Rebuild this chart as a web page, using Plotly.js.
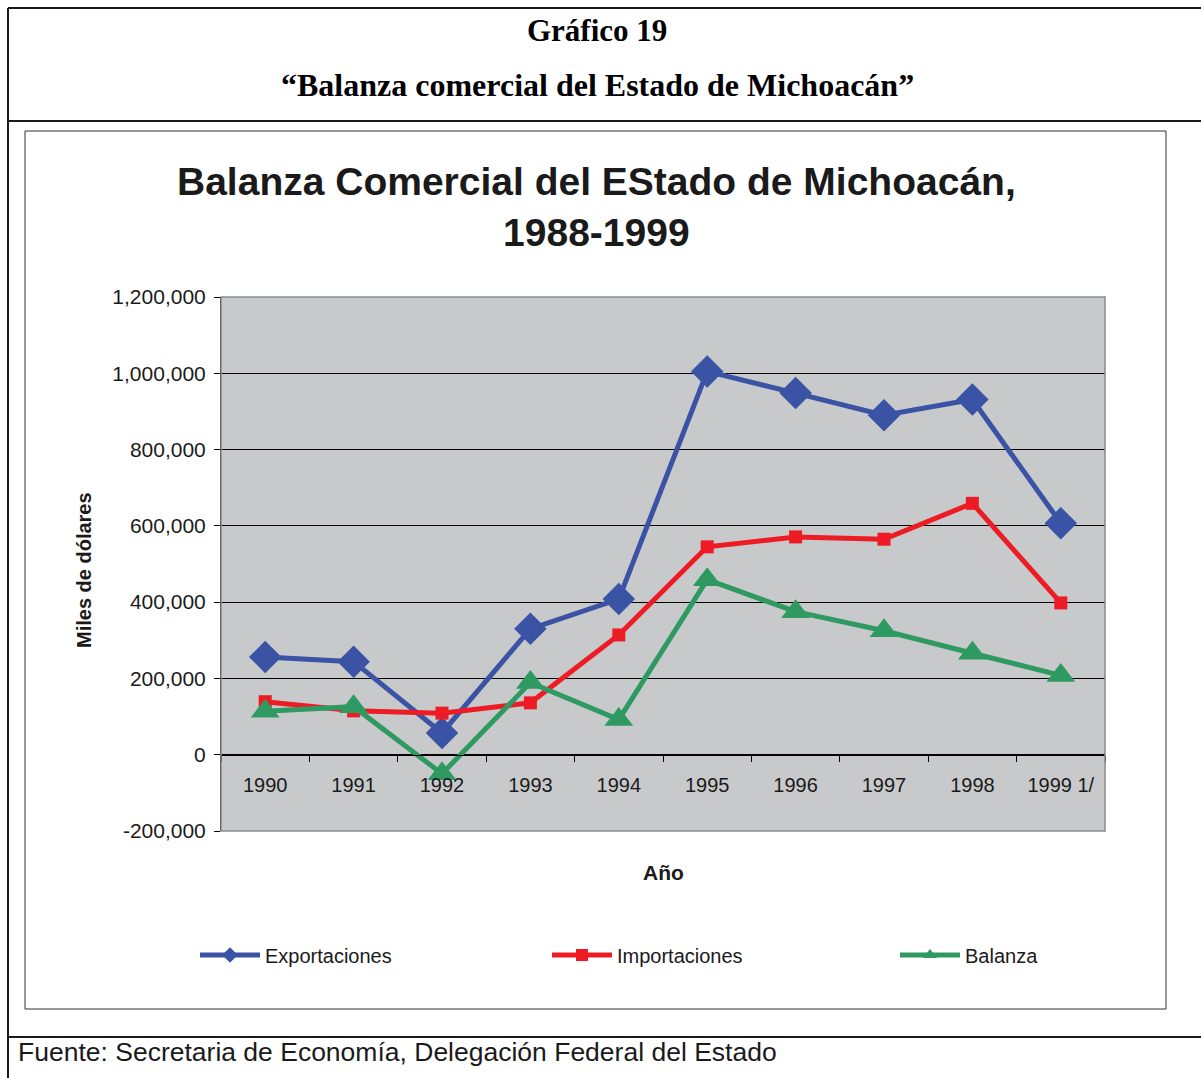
<!DOCTYPE html>
<html>
<head>
<meta charset="utf-8">
<script src="https://cdn.plot.ly/plotly-3.0.1.min.js"></script>
<style>
  body { margin: 0; background: #fff; }
  #chart { width: 1201px; height: 1078px; }
</style>
</head>
<body>
<div id="chart"></div>
<script>
// Datos (miles de dolares)
const years = ['1990', '1991', '1992', '1993', '1994', '1995', '1996', '1997', '1998', '1999 1/'];
const exportaciones = [256000, 244000, 57000, 330000, 408000, 1005000, 948000, 890000, 931000, 607000];
const importaciones = [139000, 115000, 109000, 136000, 314000, 545000, 571000, 565000, 659000, 398000];
const balanza = [114000, 126000, -50000, 189000, 92000, 459000, 375000, 325000, 266000, 208000];

const yTickVals = [-200000, 0, 200000, 400000, 600000, 800000, 1000000, 1200000];
const yTickText = ['-200,000', '0', '200,000', '400,000', '600,000', '800,000', '1,000,000', '1,200,000'];

// plot area in pixels
const L = 221, R = 1105, T = 297, B = 831;
const W = R - L, H = B - T;
const px = x => (x - L) / W;
const py = y => (B - y) / H;

const yMin = -200000, yMax = 1200000;

const traces = [
    {
        x: years, y: exportaciones, name: 'Exportaciones', legend: 'legend',
        type: 'scatter', mode: 'lines+markers',
        line: { color: '#3A53A4', width: 5 },
        marker: { symbol: 'diamond', size: 25, color: '#3A53A4' }
    },
    {
        x: years, y: importaciones, name: 'Importaciones', legend: 'legend2',
        type: 'scatter', mode: 'lines+markers',
        line: { color: '#ED1C24', width: 5 },
        marker: { symbol: 'square', size: 13, color: '#ED1C24' }
    },
    {
        x: years, y: balanza, name: 'Balanza', legend: 'legend3',
        type: 'scatter', mode: 'lines+markers',
        line: { color: '#2E9A62', width: 5 },
        marker: { symbol: 'triangle-up', size: 25, color: '#2E9A62' }
    }
];

// one legend per series so each sits where the original has it
function legendAt(xPix) {
    return {
        orientation: 'h',
        x: px(xPix), xanchor: 'left',
        y: py(955), yanchor: 'middle',
        font: { size: 20 },
        itemwidth: 60,
        itemsizing: 'constant',
        bgcolor: 'rgba(0,0,0,0)'
    };
}

const frameLine = { color: '#1a1a1a', width: 2 };

function note(text, xPix, yPix, size, extra) {
    return Object.assign({
        text: text, x: px(xPix), y: py(yPix), xref: 'paper', yref: 'paper',
        xanchor: 'center', yanchor: 'middle', showarrow: false,
        font: { size: size }
    }, extra || {});
}

const serif = 'Liberation Serif, Times New Roman, serif';

const layout = {
    width: 1201,
    height: 1078,
    margin: { l: L, r: 1201 - R, t: T, b: 1078 - B },
    paper_bgcolor: '#ffffff',
    plot_bgcolor: '#C8C9CB',
    font: { family: 'Liberation Sans, Arial, sans-serif', color: '#1a1a1a' },
    showlegend: true,
    legend: legendAt(195),
    legend2: legendAt(547),
    legend3: legendAt(895),
    xaxis: {
        type: 'category',
        range: [-0.5, 9.5],
        anchor: 'free',
        position: (0 - yMin) / (yMax - yMin),
        showgrid: false,
        showline: true, linecolor: '#000', linewidth: 1,
        ticks: 'outside', tickson: 'boundaries', ticklen: 6, tickcolor: '#000',
        tickfont: { size: 20 },
        ticklabelstandoff: 12,
        automargin: false,
        fixedrange: true
    },
    yaxis: {
        range: [yMin, yMax],
        tickvals: yTickVals,
        ticktext: yTickText,
        showgrid: true, gridcolor: '#000', gridwidth: 1,
        zeroline: false,
        showline: true, linecolor: '#000', linewidth: 1,
        ticks: 'outside', ticklen: 6, tickcolor: '#000',
        tickfont: { size: 21 },
        ticklabelstandoff: 4,
        automargin: false,
        fixedrange: true
    },
    annotations: [
        note('<b>Gráfico 19</b>', 597, 30, 31, { font: { family: serif, size: 31, color: '#000' } }),
        note('<b>“Balanza comercial del Estado de Michoacán”</b>', 597, 85, 32, { font: { family: serif, size: 32, color: '#000' } }),
        note('<b>Balanza Comercial del EStado de Michoacán,<br>1988-1999</b>', 596, 207, 39),
        note('<b>Año</b>', 663, 872, 21),
        note('<b>Miles de dólares</b>', 84, 570, 20, { textangle: -90 }),
        note('Fuente: Secretaria de Economía, Delegación Federal del Estado', 16, 1052, 26.5, { xanchor: 'left' })
    ],
    shapes: [
        // outer frame
        { type: 'line', xref: 'paper', yref: 'paper', x0: px(8), x1: px(1201), y0: py(8), y1: py(8), line: frameLine },
        { type: 'line', xref: 'paper', yref: 'paper', x0: px(8), x1: px(8), y0: py(8), y1: py(1078), line: frameLine },
        { type: 'line', xref: 'paper', yref: 'paper', x0: px(8), x1: px(1201), y0: py(121), y1: py(121), line: frameLine },
        { type: 'line', xref: 'paper', yref: 'paper', x0: px(8), x1: px(1201), y0: py(1037), y1: py(1037), line: frameLine },
        // chart box
        { type: 'rect', xref: 'paper', yref: 'paper', x0: px(25), x1: px(1166), y0: py(131), y1: py(1009),
          line: { color: '#333', width: 1 } },
        // plot area border
        { type: 'rect', xref: 'paper', yref: 'paper', x0: 0, x1: 1, y0: 0, y1: 1,
          line: { color: '#8a8a8a', width: 1.5 } }
    ]
};

Plotly.newPlot('chart', traces, layout, { displayModeBar: false, staticPlot: true });
</script>
</body>
</html>
